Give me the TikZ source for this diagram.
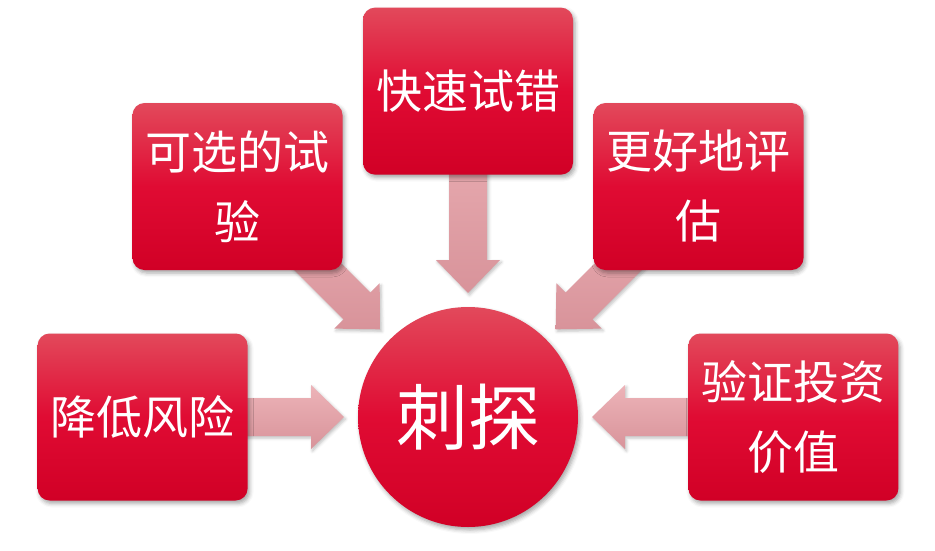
\documentclass[tikz,border=0pt]{standalone}
\usepackage{fontspec}
\newfontfamily\cjk{Noto Sans CJK SC}
\usepackage{tikz}
\usetikzlibrary{positioning,calc,backgrounds,shadows.blur}
\definecolor{CardTop}{HTML}{E2495B}
\definecolor{CardMid}{HTML}{E00B33}
\definecolor{CardBot}{HTML}{D10026}
\definecolor{PinkTop}{HTML}{EDB3B8}
\definecolor{PinkBot}{HTML}{D8939A}

\begin{document}
\begin{tikzpicture}[x=1pt,y=-1pt,
card/.style={rounded corners=12pt,minimum width=210pt,minimum height=167pt,inner sep=0pt,align=center,
  top color=CardTop,bottom color=CardBot,middle color=CardMid,text=white,
  font=\cjk\fontsize{46pt}{70pt}\selectfont,
  blur shadow={shadow xshift=2pt,shadow yshift=-3pt,shadow blur radius=4pt,shadow opacity=35}},
hub/.style={circle,minimum size=220pt,inner sep=0pt,
  top color=CardTop,bottom color=CardBot,middle color=CardMid,text=white,
  font=\cjk\fontsize{72pt}{80pt}\selectfont,
  blur shadow={shadow xshift=2pt,shadow yshift=-3pt,shadow blur radius=4pt,shadow opacity=35}},
push/.style={top color=PinkTop,bottom color=PinkBot,
  blur shadow={shadow xshift=1.5pt,shadow yshift=-2pt,shadow blur radius=3pt,shadow opacity=25},
  to path={let \p1=(\tikztostart),\p2=($(\tikztotarget)!124pt!(\tikztostart)$),
    \n1={atan2(\y2-\y1,\x2-\x1)},\p3=($(\p2)+(\n1:-33pt)$) in
    ($(\p1)+({\n1+90}:19pt)$) -- ($(\p3)+({\n1+90}:19pt)$) -- ($(\p3)+({\n1+90}:32pt)$) -- (\p2)
    -- ($(\p3)+({\n1-90}:32pt)$) -- ($(\p3)+({\n1-90}:19pt)$) -- ($(\p1)+({\n1-90}:19pt)$) -- cycle}}]
\useasboundingbox (0,0) rectangle (935,550);
\node[hub] (probe) at (468,417) {刺探};
\node[card,above=132pt of probe] (fast) {快速试错};
\node[card,left=110pt of probe] (risk) {降低风险};
\node[card,right=110pt of probe] (value) {验证投资\\价值};
\node[card] (trial) at (237.5,186.5) {可选的试\\验};
\node[card] (judge) at (698.5,186.5) {更好地评\\估};
% arrows go under the cards
\begin{scope}[on background layer]
\shade[push] (risk) to (probe);
\shade[push] (trial) to (probe);
\shade[push] (fast) to (probe);
\shade[push] (judge) to (probe);
\shade[push] (value) to (probe);
\end{scope}
\end{tikzpicture}
\end{document}
